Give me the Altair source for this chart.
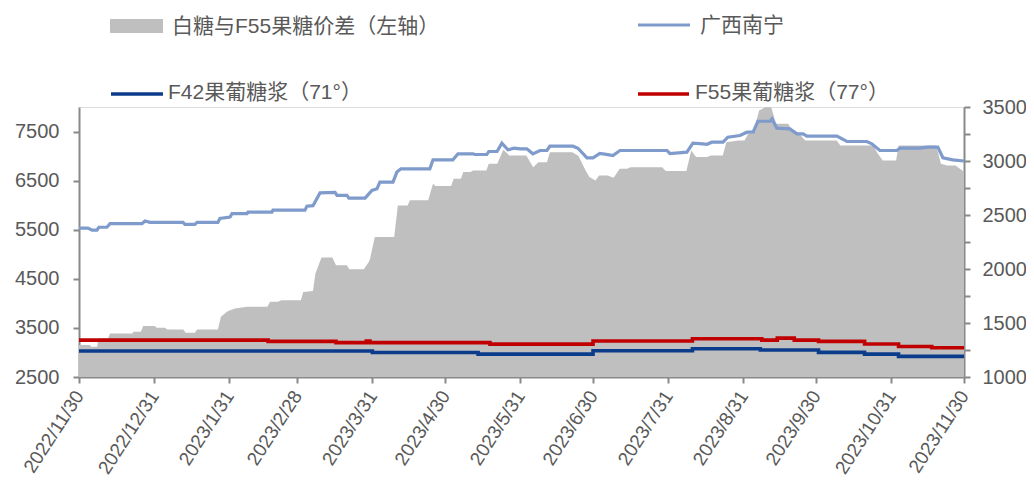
import altair as alt
import pandas as pd

# ---------------- data ----------------
# day offsets from 2022-11-30
sugar_day = [0, 3.7, 5.4, 7.4, 8.2, 11.5, 12.8, 26, 27.2, 29.3, 42.9, 43.7, 47.8, 48.7, 57.3, 58.1,
             62.3, 63.1, 69.3, 69.7, 79.6, 80, 93.2, 94, 96.5, 99.4, 105.6, 106.4, 110.5, 111.3, 118,
             120.8, 122.9, 124.1, 129.5, 131.1, 132.8, 144.7, 146, 154.2, 156.3, 162.5, 163.3, 168.2,
             169, 172.4, 174.4, 176.9, 179.4, 181.9, 184.7, 187.2, 190.1, 193, 194.2, 203.7, 205.8,
             209.5, 212, 214.8, 218.1, 220.2, 223.1, 242.5, 243.7, 250.7, 253.2, 257.3, 259, 261,
             265.6, 267.6, 272.6, 275.5, 278, 280, 285, 285.8, 287.8, 293.2, 296.1, 298.6, 300.2,
             312.6, 316.7, 324.9, 327, 330.3, 337.3, 338.6, 346.8, 350, 354.2, 356.3, 360.4, 365]
sugar_val = [5534, 5534, 5490, 5490, 5550, 5550, 5624, 5624, 5677, 5650, 5650, 5610, 5610, 5650, 5650,
             5730, 5758, 5827, 5827, 5860, 5860, 5900, 5900, 5980, 5990, 6250, 6260, 6200, 6200, 6145,
             6145, 6300, 6335, 6470, 6470, 6674, 6741, 6741, 6924, 6924, 7046, 7046, 7032, 7032, 7094,
             7094, 7263, 7128, 7162, 7148, 7148, 7046, 7114, 7114, 7202, 7202, 7160, 6965, 6965, 7053,
             7030, 7012, 7114, 7114, 7053, 7080, 7263, 7250, 7240, 7283, 7283, 7385, 7419, 7487, 7487,
             7710, 7710, 7758, 7570, 7555, 7453, 7453, 7405, 7405, 7297, 7297, 7250, 7114, 7114, 7161,
             7161, 7182, 7182, 6965, 6924, 6900]

spread_day = [0, 4.5, 5, 7.5, 8, 12, 12.8, 22, 22.5, 25.5, 26.5, 31.3, 32, 35.5, 36.3, 43, 44, 47.8,
              48.7, 57.3, 58.5, 61, 62.3, 64.3, 69.3, 77.7, 78.8, 82, 83.5, 91.5, 92.5, 96.5, 97.5,
              100, 104.5, 106, 110.5, 111.5, 117.5, 119.5, 120, 122, 130, 131.5, 135.5, 136.5, 144,
              146, 147, 153.5, 154.5, 157.5, 158.5, 161.5, 162.5, 168, 169, 172.5, 175, 177.5, 184.5,
              187.3, 189.5, 193, 194.2, 203.5, 206, 209, 210.5, 213, 214.5, 218, 220.5, 223, 226,
              227.5, 240.5, 242, 250.5, 252.5, 254.5, 259, 260.5, 265.5, 267, 272, 274.5, 276, 278,
              280.5, 283, 285.5, 287.5, 292.5, 294.5, 296.5, 299.5, 312.5, 314, 327.5, 329.5, 331.5,
              337, 338, 353.5, 355.5, 358, 361.5, 365]
spread_val = [3150, 3150, 3116, 3116, 3286, 3286, 3388, 3388, 3422, 3422, 3537, 3537, 3503, 3503,
              3469, 3469, 3401, 3401, 3469, 3469, 3726, 3830, 3862, 3897, 3930, 3930, 4031, 4031,
              4065, 4065, 4234, 4254, 4608, 4933, 4933, 4777, 4777, 4695, 4695, 4844, 4900, 5352,
              5352, 5996, 5996, 6098, 6098, 6437, 6389, 6389, 6539, 6539, 6674, 6674, 6708, 6708,
              6843, 6843, 7128, 7012, 7012, 6775, 6877, 6877, 7080, 7080, 7000, 6700, 6572, 6505,
              6607, 6607, 6560, 6741, 6741, 6775, 6775, 6694, 6694, 7114, 6979, 6979, 7012, 7012,
              7283, 7317, 7317, 7453, 7453, 7927, 7995, 7995, 7657, 7657, 7487, 7487, 7317, 7317,
              7215, 7215, 7046, 6911, 6911, 7215, 7215, 6843, 6810, 6810, 6680]

f42_day = [0, 121, 164.6, 212, 253, 281, 305, 324, 338, 365]
f42_val = [3030, 3000, 2967, 3035, 3076, 3049, 3002, 2967, 2920, 2920]

f55_day = [0, 78, 106, 118.5, 120, 169.5, 212, 253, 281.6, 288, 295, 305, 324, 338, 351.7, 365]
f55_val = [3252, 3225, 3200, 3230, 3200, 3170, 3232, 3279, 3252, 3292, 3252, 3225, 3171, 3120, 3096, 3096]

tick_dates = ["2022-11-30", "2022-12-31", "2023-01-31", "2023-02-28", "2023-03-31", "2023-04-30",
              "2023-05-31", "2023-06-30", "2023-07-31", "2023-08-31", "2023-09-30", "2023-10-31",
              "2023-11-30"]
left_ticks = [2500, 3500, 4500, 5500, 6500, 7500]
right_ticks = [1000, 1500, 2000, 2500, 3000, 3500]
right_minor = [1250, 1750, 2250, 2750, 3250]

names = ["白糖与F55果糖价差（左轴）", "广西南宁", "F42果葡糖浆（71°）", "F55果葡糖浆（77°）"]

# ---------------- build ----------------
start = pd.Timestamp("2022-11-30")


def frame(days, vals):
    return pd.DataFrame({"date": start + pd.to_timedelta(days, unit="D"), "value": vals})


def dt(s):
    t = pd.Timestamp(s)
    return alt.DateTime(year=t.year, month=t.month, date=t.day)


FONT = "Liberation Sans, Arial, Noto Sans CJK SC"
GREY_TXT = "#595959"
AX = "#898989"

x_enc = alt.X(
    "date:T",
    scale=alt.Scale(domain=[dt(tick_dates[0]), dt(tick_dates[-1])]),
    axis=alt.Axis(values=[dt(d) for d in tick_dates], format="%Y/%-m/%-d", labelAngle=-57,
                  labelAlign="right", labelBaseline="middle", labelPadding=9, tickSize=6,
                  grid=False, title=None, labelFontSize=19, labelColor=GREY_TXT, labelFont=FONT,
                  domainColor=AX, tickColor=AX, domainWidth=2, tickWidth=2, labelOverlap=False,
                  labelBound=False, labelFlush=False),
)
y_left = alt.Y(
    "value:Q",
    scale=alt.Scale(domain=[2500, 8000], nice=False, zero=False),
    axis=alt.Axis(values=left_ticks, format="d", title=None, grid=False, tickSize=6, labelPadding=14,
                  labelFontSize=20, labelColor=GREY_TXT, labelFont=FONT, domainColor=AX,
                  tickColor=AX, domainWidth=2, tickWidth=2, labelOverlap=False),
)

area = alt.Chart(frame(spread_day, spread_val)).mark_area(color="#bfbfbf", clip=True).encode(
    x=x_enc, y=y_left, y2=alt.datum(2500))
sugar = alt.Chart(frame(sugar_day, sugar_val)).mark_line(color="#7f9bcb", strokeWidth=3.2).encode(
    x=x_enc, y=y_left)
f42 = alt.Chart(frame(f42_day, f42_val)).mark_line(
    color="#0b3c8c", strokeWidth=3.6, interpolate="step-after").encode(x=x_enc, y=y_left)
f55 = alt.Chart(frame(f55_day, f55_val)).mark_line(
    color="#c00000", strokeWidth=3.6, interpolate="step-after").encode(x=x_enc, y=y_left)

left = alt.layer(area, sugar, f42, f55)

rdf = pd.DataFrame({"r": [1000, 3500]})
right_major = alt.Chart(rdf).mark_point(opacity=0).encode(
    y=alt.Y("r:Q", scale=alt.Scale(domain=[1000, 3500], nice=False, zero=False),
            axis=alt.Axis(orient="right", values=right_ticks, format="d", title=None, grid=False,
                          tickSize=6, labelPadding=12, labelFontSize=20, labelColor=GREY_TXT,
                          labelFont=FONT, domainColor=AX, tickColor=AX, domainWidth=2, tickWidth=2,
                          labelOverlap=False)))
right_min = alt.Chart(rdf).mark_point(opacity=0).encode(
    y=alt.Y("r:Q", scale=alt.Scale(domain=[1000, 3500], nice=False, zero=False),
            axis=alt.Axis(orient="right", values=right_minor, title=None, grid=False, tickSize=6,
                          labels=False, domain=False, tickColor=AX, tickWidth=2)))

# ---------------- manual legend ----------------
def legend_text(name, x, y):
    return alt.Chart(pd.DataFrame({"label": [name]})).mark_text(
        align="left", baseline="middle", fontSize=21, font=FONT, color=GREY_TXT).encode(
        text="label:N", x=alt.value(x), y=alt.value(y))


def legend_line(color, x1, x2, y, w):
    return alt.Chart(pd.DataFrame({"k": [0]})).mark_rule(color=color, strokeWidth=w).encode(
        x=alt.value(x1), x2=alt.value(x2), y=alt.value(y))


leg_box = alt.Chart(pd.DataFrame({"k": [0]})).mark_rect(color="#bfbfbf").encode(
    x=alt.value(31), x2=alt.value(84), y=alt.value(-88), y2=alt.value(-74))

legend = [
    leg_box, legend_text(names[0], 93, -80),
    legend_line("#7f9bcb", 559, 611, -82, 3.2), legend_text(names[1], 621, -81),
    legend_line("#0b3c8c", 32, 84, -13, 3.6), legend_text(names[2], 89, -14),
    legend_line("#c00000", 559, 610, -13, 3.6), legend_text(names[3], 616, -14),
]

chart = alt.layer(left, right_major, right_min, *legend).resolve_scale(y="independent").properties(
    width=885, height=270,
    padding={"left": 71, "top": 99, "right": 62, "bottom": 106},
    autosize="none",
).configure_view(stroke=None).configure(background="white")

chart.save("out.html", embed_options={"renderer": "svg", "actions": False})
